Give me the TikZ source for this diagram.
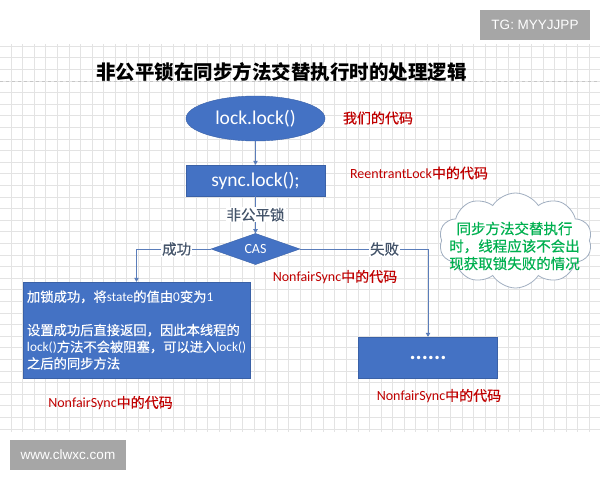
\documentclass[tikz,border=0pt]{standalone}
\usepackage{fontspec}
\setmainfont{Carlito}
\newfontfamily\cjk[FakeBold=0.5]{Noto Sans CJK SC}
\newfontfamily\cjkt{Noto Sans CJK SC}
\newfontfamily\arialf{Liberation Sans}
\usetikzlibrary{shapes.geometric,shapes.symbols,arrows.meta}
\definecolor{mblue}{HTML}{4472C4}
\definecolor{mred}{HTML}{C00000}
\definecolor{mgreen}{HTML}{00B050}
\definecolor{lineblue}{HTML}{5A7DBA}
\definecolor{labgray}{HTML}{44546A}
\definecolor{gridc}{HTML}{E3E3E3}
\definecolor{badgec}{HTML}{A6A6A6}
\definecolor{cloudc}{HTML}{A0AEC0}
\newcommand\zh[1]{{\cjk #1}}
\begin{document}
\begin{tikzpicture}[x=1pt,y=-1pt,
  blk/.style={fill=mblue,draw=mblue!85!black,line width=0.4pt,text=white,inner sep=0pt},
  conn/.style={draw=lineblue,line width=0.8pt},
  arr/.style={conn,-{Triangle[width=4.5pt,length=4pt]}},
  redlbl/.style={text=mred,font=\fontsize{14}{16}\selectfont,inner sep=0pt},
  lbl/.style={text=labgray,font=\cjk\fontsize{14.5}{16}\selectfont,fill=white,inner sep=1pt},
  badge/.style={fill=badgec,text=white,font=\arialf\fontsize{13.5}{16}\selectfont,minimum height=30pt,inner sep=0pt},
  gridline/.style={draw=gridc,line width=0.5pt}
  ]
\useasboundingbox (0,0) rectangle (600,480);
\fill[white] (0,0) rectangle (600,480);
% grid
\foreach \i in {0,...,50} \draw[gridline] ({11+11.56*\i},44) -- ({11+11.56*\i},432);
\foreach \j in {0,...,33} \draw[gridline] (0,{46+11.6*\j}) -- (600,{46+11.6*\j});
\draw[dashed,draw=gray!45,line width=0.6pt] (0,81) -- (600,81);

% badges
\node[badge,minimum width=110pt] (tg) at (535,25) {TG: MYYJJPP};
\node[badge,minimum width=116pt] (www) at (68,455) {www.clwxc.com};

% title
\node[font=\cjkt\bfseries\fontsize{19.5}{22}\selectfont,inner sep=0pt] (title) at (281.5,72) {非公平锁在同步方法交替执行时的处理逻辑};

% flow nodes
\node[blk,ellipse,minimum width=139pt,minimum height=45pt,font=\fontsize{19.5}{22}\selectfont] (start) at (255.5,118.5) {lock.lock()};
\node[blk,rectangle,minimum width=139pt,minimum height=31pt,font=\fontsize{19.5}{22}\selectfont] (sync) at (255.5,180.5) {sync.lock();};
\node[blk,diamond,minimum width=89pt,minimum height=30pt,font=\fontsize{14}{16}\selectfont] (cas) at (255.5,249) {CAS};
\node[blk,rectangle,minimum width=227pt,minimum height=96pt,text width=219pt,align=left,inner sep=4pt,font=\fontsize{13.3}{16.7}\selectfont] (ok) at (136.5,330)
 {\zh{加锁成功，将}state\zh{的值由}0\zh{变为}1\\[16.7pt]
  \zh{设置成功后直接返回，因此本线程的}\\
  lock()\zh{方法不会被阻塞，可以进入}lock()\\
  \zh{之后的同步方法}};
\node[blk,rectangle,minimum width=139pt,minimum height=41pt,font=\bfseries\fontsize{23}{24}\selectfont] (other) at (428,357.5) {......};

% connectors
\draw[arr] (start.south) -- (sync.north);
\draw[arr] (sync.south) -- node[lbl] {非公平锁} (cas.north);
\draw[arr] (cas.west) -- node[lbl,pos=0.46] {成功} (cas.west -| ok.north) -- (ok.north);
\draw[arr] (cas.east) -- node[lbl,pos=0.66] {失败} (cas.east -| other.north) -- (other.north);

% cloud
\node[cloud,cloud puffs=10,cloud puff arc=115,cloud ignores aspect,draw=cloudc,fill=white,line width=0.8pt,minimum width=153pt,minimum height=95pt] (cloud) at (515.5,240.5) {};
\node[text=mgreen,font=\cjk\fontsize{14.5}{17.5}\selectfont,align=center,inner sep=0pt] (cloudtxt) at (514.5,246) {同步方法交替执行\\时，线程应该不会出\\现获取锁失败的情况};

% red labels
\node[redlbl] (ours) at (378,118) {\zh{我们的代码}};
\node[redlbl] (rlock) at (419,173) {ReentrantLock\zh{中的代码}};
\node[redlbl] (nfcas) at (335,277) {NonfairSync\zh{中的代码}};
\node[redlbl] (nfleft) at (110.5,403) {NonfairSync\zh{中的代码}};
\node[redlbl] (nfright) at (439,396) {NonfairSync\zh{中的代码}};
\end{tikzpicture}
\end{document}
